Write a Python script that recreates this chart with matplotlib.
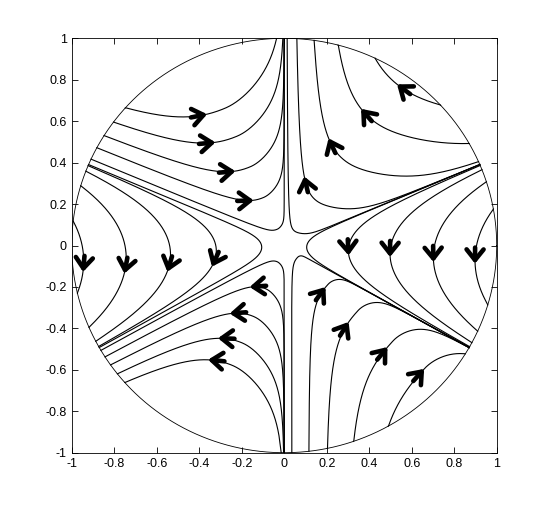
import numpy as np
import matplotlib.pyplot as plt

plt.rcParams['font.family'] = ['Liberation Sans', 'DejaVu Sans']

# directions (deg) of the six separatrices
sep_deg = np.array([23.0, 90.0, 157.0, 209.5, 270.0, 330.5])
# direction of closest approach inside each sector (between consecutive separatrices)
vertex_deg = np.array([54.0, 113.0, 183.25, 247.0, 318.0, 356.75])
# growth factors at the start / end side of each sector
k_start = np.array([0.5, 0.5, 1.0, 2.0, 2.0, 1.0])
k_end = np.array([2.0, 2.0, 1.0, 0.5, 0.5, 1.0])

# arrow positions (tips); a trajectory is traced through each
arrow_x = [-0.38, -0.341, -0.247, -0.161,
           0.545, 0.373, 0.216, 0.098,
           -0.945, -0.749, -0.545, -0.333,
           0.302, 0.498, 0.702, 0.898,
           -0.145, -0.239, -0.294, -0.341,
           0.184, 0.294, 0.475, 0.647]
arrow_y = [0.630, 0.496, 0.357, 0.217,
           0.767, 0.646, 0.501, 0.316,
           -0.110, -0.118, -0.110, -0.086,
           -0.030, -0.038, -0.062, -0.070,
           -0.199, -0.327, -0.448, -0.553,
           -0.215, -0.384, -0.504, -0.609]

# trajectories bounding the empty star around the origin (closest distance)
star_r = [0.085, 0.085, 0.106, 0.085, 0.085, 0.106]

tick_vals = [-1, -0.8, -0.6, -0.4, -0.2, 0, 0.2, 0.4, 0.6, 0.8, 1]
tick_labels = ['-1', '-0.8', '-0.6', '-0.4', '-0.2', '0', '0.2', '0.4', '0.6', '0.8', '1']

# interpolation nodes for the angular profile of the field
ends = np.r_[sep_deg[1:], sep_deg[0] + 360]
nodes = np.ravel(np.column_stack([sep_deg, vertex_deg]))
psi_vals = np.ravel(np.column_stack([90 + 180*np.arange(6)*1.0, 180 + 180*np.arange(6)*1.0]))
k_nodes = np.ravel(np.column_stack([sep_deg + 1e-6, ends - 1e-6]))
k_vals = np.ravel(np.column_stack([k_start, k_end]))


def psi(th):
    t = np.degrees(th) % 360.0
    s = np.r_[nodes - 360, nodes, nodes + 360]
    p = np.r_[psi_vals - 1080, psi_vals, psi_vals + 1080]
    return np.radians(np.interp(t, s, p))


def kfac(th):
    t = np.degrees(th) % 360.0
    s = np.r_[k_nodes - 360, k_nodes, k_nodes + 360]
    return np.interp(t, s, np.r_[k_vals, k_vals, k_vals])


def field(r, th):
    # polar form of a degree-2 saddle with six hyperbolic sectors (time rescaled by r)
    p = psi(th)
    return -r*kfac(th)*np.sin(p), -np.cos(p)


def integrate(r0, th0, sign, h=0.003, nsteps=9000):
    r = np.array(r0, float)
    th = np.array(th0, float)
    live = np.ones_like(r, bool)
    HR, HT = [r.copy()], [th.copy()]
    for _ in range(nsteps):
        a1, b1 = field(r, th)
        a2, b2 = field(r + .5*h*sign*a1, th + .5*h*sign*b1)
        a3, b3 = field(r + .5*h*sign*a2, th + .5*h*sign*b2)
        a4, b4 = field(r + h*sign*a3, th + h*sign*b3)
        r = np.where(live, r + h*sign*(a1 + 2*a2 + 2*a3 + a4)/6, r)
        th = np.where(live, th + h*sign*(b1 + 2*b2 + 2*b3 + b4)/6, th)
        HR.append(r.copy())
        HT.append(th.copy())
        live &= (r < 1.0) & (r > 0.003)
        if not live.any():
            break
    return np.array(HR), np.array(HT)


sx = np.array(arrow_x + [r*np.cos(np.radians(a)) for r, a in zip(star_r, vertex_deg)])
sy = np.array(arrow_y + [r*np.sin(np.radians(a)) for r, a in zip(star_r, vertex_deg)])
r0, t0 = np.hypot(sx, sy), np.arctan2(sy, sx)
fr, ft = integrate(r0, t0, 1)
br, bt = integrate(r0, t0, -1)

fig = plt.figure(figsize=(5.49, 5.08), dpi=100)
ax = fig.add_axes([71.7/549, 1 - 452.7/508, 425/549, 414.4/508])

for i in range(len(sx)):
    rr = np.concatenate([br[::-1, i], fr[1:, i]])
    tt = np.concatenate([bt[::-1, i], ft[1:, i]])
    rr = np.minimum(rr, 1.0)
    ax.plot(rr*np.cos(tt), rr*np.sin(tt), color='k', lw=0.8)

phi = np.linspace(0, 2*np.pi, 400)
ax.plot(np.cos(phi), np.sin(phi), color='k', lw=0.6)

# arrow heads drawn along the local flow direction
for x, y in zip(arrow_x, arrow_y):
    r, th = np.hypot(x, y), np.arctan2(y, x)
    a, b = field(r, th)
    dx = a*np.cos(th) - r*b*np.sin(th)
    dy = a*np.sin(th) + r*b*np.cos(th)
    n = np.hypot(dx, dy)
    ux, uy = dx/n, dy/n
    L, W, ang = 0.06, 0.065, np.radians(38)
    w1 = (x - W*(ux*np.cos(ang) - uy*np.sin(ang)), y - W*(ux*np.sin(ang) + uy*np.cos(ang)))
    w2 = (x - W*(ux*np.cos(ang) + uy*np.sin(ang)), y - W*(-ux*np.sin(ang) + uy*np.cos(ang)))
    ax.plot([w1[0], x, w2[0]], [w1[1], y, w2[1]], color='k', lw=3.3,
            solid_capstyle='round', solid_joinstyle='round')
    ax.plot([x - L*ux, x], [y - L*uy, y], color='k', lw=3.3, solid_capstyle='round')

ax.set_xlim(-1, 1)
ax.set_ylim(-1, 1)
ax.set_xticks(tick_vals)
ax.set_xticklabels(tick_labels)
ax.set_yticks(tick_vals)
ax.set_yticklabels(tick_labels)
ax.tick_params(direction='in', top=True, right=True, length=4, width=0.6, labelsize=9)
for s in ax.spines.values():
    s.set_linewidth(0.6)

fig.savefig('out.png', dpi=100)
